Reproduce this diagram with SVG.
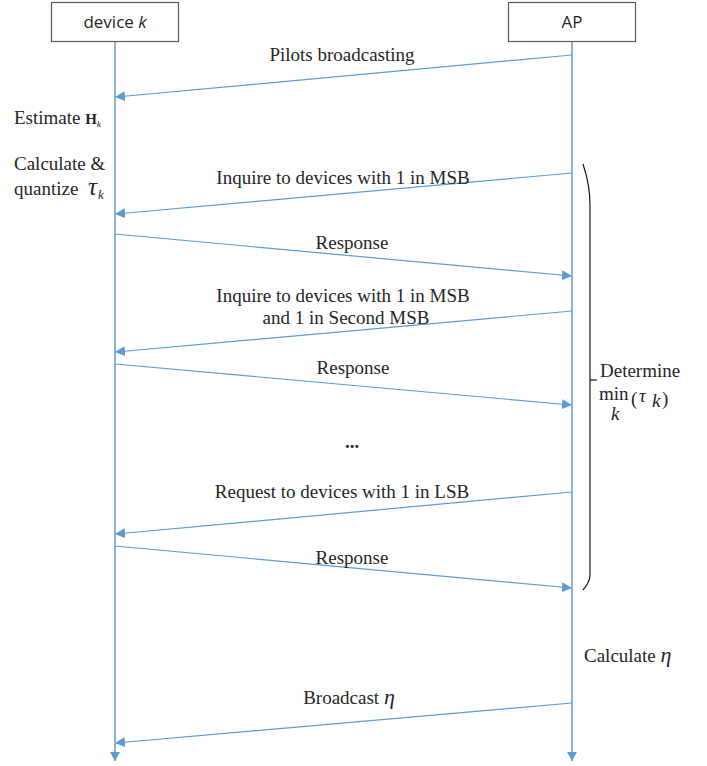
<svg xmlns="http://www.w3.org/2000/svg" width="707" height="766" viewBox="0 0 707 766">
  <style>
    .box { fill: #ffffff; stroke: #595959; stroke-width: 1.2; }
    .boxlabel { font-family: "Open Sans", "Liberation Sans", sans-serif; font-size: 17px; fill: #262626; text-anchor: middle; }
    .life { stroke: #5b9bd5; stroke-width: 1.5; fill: none; }
    .msg { stroke: #5b9bd5; stroke-width: 1.2; fill: none; marker-end: url(#arrow); }
    .t { font-family: "Liberation Serif", "Times New Roman", serif; font-size: 19px; fill: #262626; }
    .mid { text-anchor: middle; }
    .brace { stroke: #1a1a1a; stroke-width: 1.2; fill: none; }
  </style>
  <defs>
    <marker id="arrow" viewBox="0 0 10 10" refX="9" refY="5" markerWidth="10" markerHeight="10" markerUnits="userSpaceOnUse" orient="auto">
      <path d="M0,0 L10,5 L0,10 z" fill="#5b9bd5"/>
    </marker>
    <marker id="lifeEnd" viewBox="0 0 10 10" refX="5" refY="9" markerWidth="10" markerHeight="10" markerUnits="userSpaceOnUse" orient="0">
      <path d="M0,0 L10,0 L5,9 z" fill="#5b9bd5"/>
    </marker>
  </defs>

  <!-- participants -->
  <g id="device">
    <rect class="box" x="51.5" y="2.5" width="127" height="39"/>
    <text class="boxlabel" x="115" y="28">device <tspan font-style="italic">k</tspan></text>
  </g>
  <g id="ap">
    <rect class="box" x="508.5" y="2.5" width="127" height="39"/>
    <text class="boxlabel" x="572" y="28">AP</text>
  </g>

  <!-- lifelines and messages -->
  <g id="connectors">
    <line class="life" x1="115" y1="42" x2="115" y2="761" marker-end="url(#lifeEnd)"/>
    <line class="life" x1="572" y1="42" x2="572" y2="761" marker-end="url(#lifeEnd)"/>

    <line class="msg" x1="572" y1="55" x2="116" y2="97"/>
    <line class="msg" x1="572" y1="173" x2="116" y2="214"/>
    <line class="msg" x1="115" y1="234" x2="571" y2="276"/>
    <line class="msg" x1="572" y1="311" x2="116" y2="352"/>
    <line class="msg" x1="115" y1="364" x2="571" y2="405"/>
    <line class="msg" x1="572" y1="492" x2="116" y2="534"/>
    <line class="msg" x1="115" y1="546" x2="571" y2="588"/>
    <line class="msg" x1="572" y1="703" x2="116" y2="743"/>
  </g>

  <!-- message labels -->
  <g id="labels">
    <text class="t mid" x="342" y="61">Pilots broadcasting</text>
    <text class="t mid" x="343" y="184">Inquire to devices with 1 in MSB</text>
    <text class="t mid" x="352" y="249">Response</text>
    <text class="t mid" x="343" y="302">Inquire to devices with 1 in MSB</text>
    <text class="t mid" x="346" y="324">and 1 in Second MSB</text>
    <text class="t mid" x="353" y="374">Response</text>
    <text class="t mid" x="352" y="448" font-weight="bold">...</text>
    <text class="t mid" x="342" y="498">Request to devices with 1 in LSB</text>
    <text class="t mid" x="352" y="564">Response</text>
    <text class="t mid" x="349" y="704">Broadcast <tspan font-style="italic" font-size="22">η</tspan></text>
  </g>

  <!-- device-side steps -->
  <g id="device-steps">
    <text class="t" x="14" y="124">Estimate <tspan font-weight="bold" font-size="15">H</tspan><tspan font-style="italic" font-size="9" dy="3">k</tspan></text>
    <text class="t" x="14" y="170">Calculate &amp;</text>
    <text class="t" x="14" y="195">quantize <tspan font-style="italic" font-size="25" dx="5">τ</tspan><tspan font-style="italic" font-size="13" dx="1" dy="4">k</tspan></text>
  </g>

  <!-- AP-side steps -->
  <g id="determine">
    <path class="brace" d="M583,164 Q590,185 590,205 L590,575 Q590,582 583,590"/>
    <line class="brace" x1="590" y1="380" x2="597" y2="380"/>
    <text class="t" x="600" y="377">Determine</text>
    <text class="t" x="599" y="400" font-size="19">min</text>
    <text class="t" x="611" y="420" font-style="italic" font-size="11">k</text>
    <text class="t" x="631" y="405" font-size="25">(</text>
    <text class="t" x="639" y="402" font-style="italic" font-size="24">τ</text>
    <text class="t" x="652" y="407" font-style="italic" font-size="12">k</text>
    <text class="t" x="662" y="405" font-size="25">)</text>
  </g>
  <g id="calc-eta">
    <text class="t" x="584" y="662">Calculate <tspan font-style="italic" font-size="22">η</tspan></text>
  </g>
</svg>
